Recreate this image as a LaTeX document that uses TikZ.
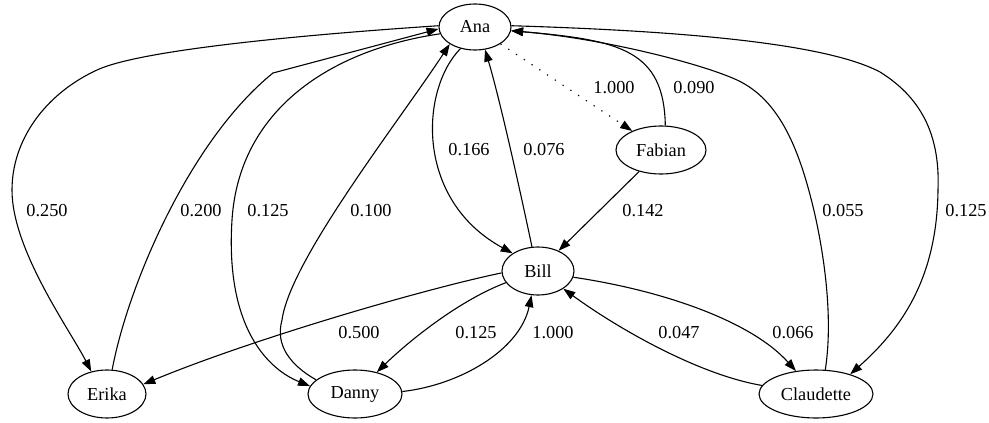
\documentclass[tikz,border=0pt]{standalone}
\usepackage{fontspec}
\setmainfont{Liberation Serif}
\usetikzlibrary{shapes.geometric,arrows.meta}
\tikzset{
  person/.style={ellipse, draw, line width=1.1pt, inner sep=0pt, font=\fontsize{18.3pt}{20pt}\selectfont},
  wlabel/.style={inner sep=0pt, font=\fontsize{18.3pt}{20pt}\selectfont},
  link/.style={line width=1.1pt, -{Triangle[length=12pt,width=8.5pt]}},
  dotlink/.style={link, dash pattern=on 1.3pt off 8pt},
}
\begin{document}
\begin{tikzpicture}[x=1pt,y=-1pt]
\useasboundingbox (0,0) rectangle (989,423);
% nodes
\node[person, minimum width=72pt, minimum height=46pt] (Ana) at (475,27) {Ana};
\node[person, minimum width=90pt, minimum height=48pt] (Fabian) at (661,150) {Fabian};
\node[person, minimum width=72pt, minimum height=48pt] (Bill) at (538,271) {Bill};
\node[person, minimum width=78pt, minimum height=48pt] (Erika) at (107,394) {Erika};
\node[person, minimum width=94pt, minimum height=48pt] (Danny) at (355,394) {Danny};
\node[person, minimum width=114pt, minimum height=48pt] (Claudette) at (816,394) {Claudette};
% edges
\draw[link] (Ana.178) .. controls (300,35) and (140,50) .. (97,70)
  .. controls (45,94) and (12,140) .. (12,190)
  .. controls (12,250) and (70,330) .. (Erika.125);
\draw[link] (Erika.78) .. controls (128,285) and (190,140) .. (273,73) -- (Ana.183);
\draw[link] (Ana.191) .. controls (330,50) and (239,110) .. (232,220)
  .. controls (225,330) and (270,370) .. (Danny.170);
\draw[link] (Danny.160) .. controls (290,365) and (275,345) .. (282,320)
  .. controls (290,260) and (400,120) .. (Ana.214);
\draw[link] (Ana.236) .. controls (420,90) and (415,200) .. (Bill.145);
\draw[link] (Bill.104) .. controls (520,190) and (500,100) .. (Ana.294);
\draw[dotlink] (Ana) -- (Fabian);
\draw[link] (Fabian.80) .. controls (664,50) and (620,40) .. (Ana.354);
\draw[link] (Fabian) -- (Bill);
\draw[link] (Claudette.69) .. controls (833,320) and (825,260) .. (815,215)
  .. controls (800,150) and (780,100) .. (737,80)
  .. controls (700,63) and (600,38) .. (Ana.354);
\draw[link] (Ana.2) .. controls (650,30) and (820,40) .. (880,72)
  .. controls (925,100) and (940,140) .. (938,190)
  .. controls (937,280) and (900,330) .. (Claudette.30);
\draw[link] (Bill.183) .. controls (420,290) and (250,340) .. (Erika.15);
\draw[link] (Bill.200) .. controls (460,300) and (410,340) .. (Danny.45);
\draw[link] (Danny.3) .. controls (460,385) and (520,350) .. (Bill.255);
\draw[link] (Bill.350) .. controls (660,290) and (750,320) .. (Claudette.131);
\draw[link] (Claudette.171) .. controls (700,375) and (620,330) .. (Bill.325);
% labels
\node[wlabel] (l1) at (47,211) {0.250};
\node[wlabel] (l2) at (201,211) {0.200};
\node[wlabel] (l3) at (268,211) {0.125};
\node[wlabel] (l4) at (371,211) {0.100};
\node[wlabel] (l5) at (469,150) {0.166};
\node[wlabel] (l6) at (544,150) {0.076};
\node[wlabel] (l7) at (614,88) {1.000};
\node[wlabel] (l8) at (694,88) {0.090};
\node[wlabel] (l9) at (643,211) {0.142};
\node[wlabel] (l10) at (843,211) {0.055};
\node[wlabel] (l11) at (966,211) {0.125};
\node[wlabel] (l12) at (359,333) {0.500};
\node[wlabel] (l13) at (476,333) {0.125};
\node[wlabel] (l14) at (553,333) {1.000};
\node[wlabel] (l15) at (679,333) {0.047};
\node[wlabel] (l16) at (793,333) {0.066};
\end{tikzpicture}
\end{document}
